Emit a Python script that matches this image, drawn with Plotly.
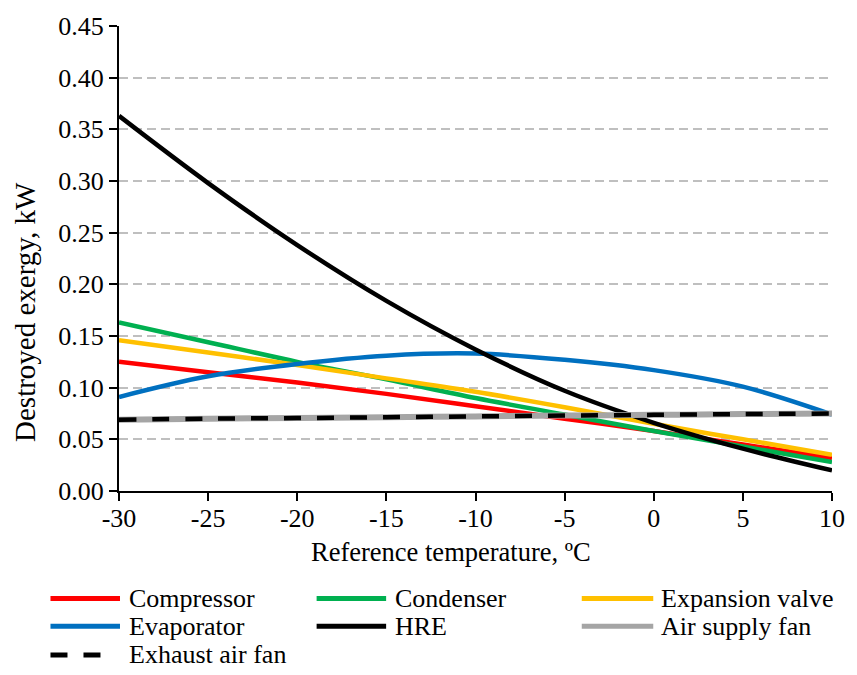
import plotly.graph_objects as go

# Reference temperature, ºC
temperature = [-30, -25, -20, -15, -10, -5, 0, 5, 10]

# Destroyed exergy per component, kW
compressor = [0.125, 0.115, 0.105, 0.094, 0.082, 0.070, 0.058, 0.045, 0.032]
condenser = [0.163, 0.144, 0.125, 0.108, 0.090, 0.074, 0.058, 0.043, 0.028]
expansion_valve = [0.146, 0.134, 0.122, 0.109, 0.096, 0.081, 0.065, 0.050, 0.035]
evaporator = [0.091, 0.111, 0.123, 0.131, 0.133, 0.127, 0.117, 0.101, 0.074]
hre = [0.363, 0.298, 0.238, 0.184, 0.137, 0.097, 0.066, 0.041, 0.020]
air_supply_fan = [0.069, 0.070, 0.0706, 0.0714, 0.0722, 0.073, 0.0737, 0.0744, 0.075]
exhaust_air_fan = [0.069, 0.070, 0.0706, 0.0714, 0.0722, 0.073, 0.0737, 0.0744, 0.075]

x_ticks = [-30, -25, -20, -15, -10, -5, 0, 5, 10]
y_ticks = [0.00, 0.05, 0.10, 0.15, 0.20, 0.25, 0.30, 0.35, 0.40, 0.45]

SERIF = "Liberation Serif"
FS = 26

series = [
    ("Compressor", compressor, "#FF0000", 4.5, None),
    ("Condenser", condenser, "#00B050", 4.5, None),
    ("Expansion valve", expansion_valve, "#FFC000", 4.5, None),
    ("Evaporator", evaporator, "#0070C0", 4.5, None),
    ("HRE", hre, "#000000", 4.5, None),
    ("Air supply fan", air_supply_fan, "#A5A5A5", 6, None),
    ("Exhaust air fan", exhaust_air_fan, "#000000", 4.5, "17px,16px"),
]

fig = go.Figure()
for name, values, color, width, dash in series:
    line = dict(color=color, width=width, shape="spline", smoothing=1)
    if dash:
        line["dash"] = dash
    fig.add_trace(go.Scatter(x=temperature, y=values, mode="lines", name=name,
                             line=line, showlegend=False))

# Plot area in pixels (the legend is placed below it)
W, H = 857, 675
L, R, T, B = 119, 20, 20, 184
pw, ph = W - L - R, H - T - B


def px_x(p):
    return (p - L) / pw


def px_y(p):
    return (H - B - p) / ph


# Legend: three columns, swatch then label
col_swatch = [(50, 120), (318, 388), (585, 657)]
col_text = [127, 395, 663]
row_y = [600, 628, 657]

shapes = []
annotations = []
for i, (name, values, color, width, dash) in enumerate(series):
    r, c = divmod(i, 3)
    x0, x1 = col_swatch[c]
    if dash:
        x1 = 113
    shapes.append(dict(
        type="line", xref="paper", yref="paper",
        x0=px_x(x0), x1=px_x(x1), y0=px_y(row_y[r]), y1=px_y(row_y[r]),
        line=dict(color=color, width=5, dash=dash or "solid"),
        layer="above",
    ))
    annotations.append(dict(
        xref="paper", yref="paper", x=px_x(col_text[c]), y=px_y(row_y[r]),
        xanchor="left", yanchor="middle", text=name, showarrow=False,
        font=dict(family=SERIF, size=FS, color="#000000"),
    ))

# Axis titles
annotations.append(dict(
    xref="paper", yref="paper", x=px_x(453), y=px_y(553), xanchor="center", yanchor="middle",
    text="Reference temperature, ºC", showarrow=False,
    font=dict(family=SERIF, size=26.5, color="#000000"),
))
annotations.append(dict(
    xref="paper", yref="paper", x=px_x(25), y=px_y(310), xanchor="center", yanchor="middle",
    text="Destroyed exergy, kW", showarrow=False, textangle=-90,
    font=dict(family=SERIF, size=29, color="#000000"),
))

fig.update_layout(
    width=W, height=H,
    margin=dict(l=L, r=R, t=T, b=B, pad=0),
    paper_bgcolor="white", plot_bgcolor="white",
    font=dict(family=SERIF, size=FS, color="#000000"),
    shapes=shapes, annotations=annotations,
    showlegend=False,
)

fig.update_xaxes(
    range=[-30, 10], tickvals=x_ticks, ticktext=[str(v) for v in x_ticks],
    showgrid=False, zeroline=False,
    showline=True, linecolor="#000000", linewidth=2,
    ticks="outside", ticklen=8, tickwidth=2, tickcolor="#000000",
    ticklabelstandoff=-5,
    tickfont=dict(family=SERIF, size=FS, color="#000000"),
)
fig.update_yaxes(
    range=[0, 0.45], tickvals=y_ticks, ticktext=[f"{v:.2f}" for v in y_ticks],
    showgrid=True, gridcolor="#BFBFBF", gridwidth=1.5, griddash="9px,5px",
    zeroline=False,
    showline=True, linecolor="#000000", linewidth=2,
    ticks="outside", ticklen=8, tickwidth=2, tickcolor="#000000",
    tickfont=dict(family=SERIF, size=FS, color="#000000"),
)

fig.write_html("out.html")
